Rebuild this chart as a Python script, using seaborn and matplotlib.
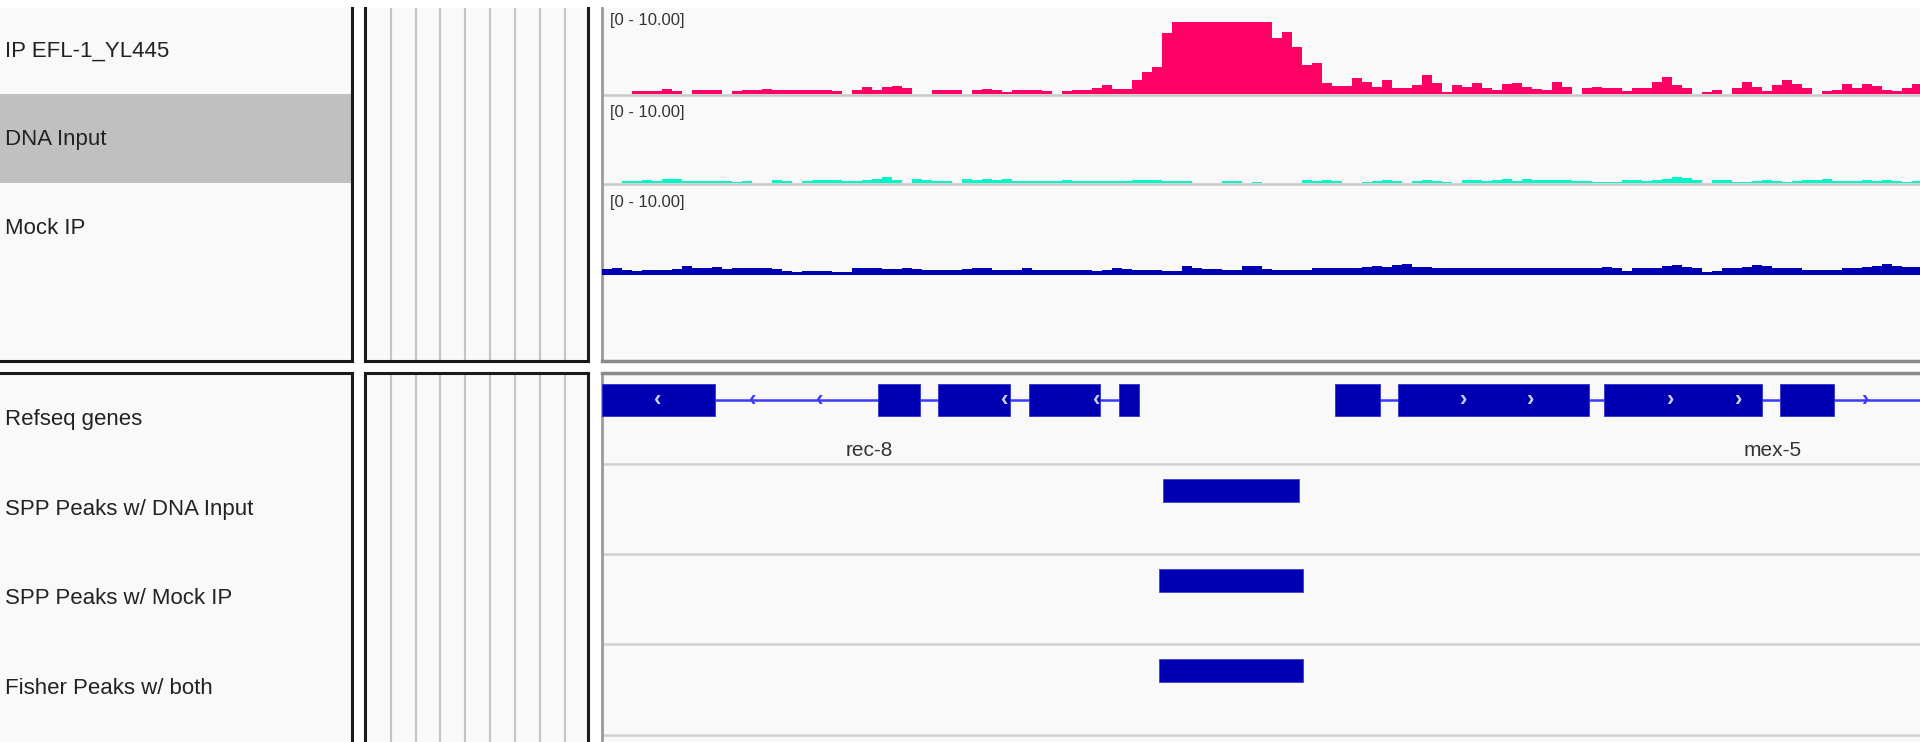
import numpy as np
import pandas as pd
import matplotlib
matplotlib.use("Agg")
import matplotlib.pyplot as plt
import seaborn as sns

W, H = 1920, 742
BIN = 100          # bp per coverage bin
VIEW_END = 13180   # visible window, bp

# coverage tracks (one value per 100 bp bin)
IP_VALUES = [
    0, 0, 0, 0.4, 0.45, 0.45, 0.75, 0.45, 0, 0.6,
    0.5, 0.6, 0, 0.4, 0.5, 0.6, 0.7, 0.6, 0.5, 0.6,
    0.6, 0.5, 0.6, 0.4, 0, 0.6, 1.0, 0.6, 1.0, 1.1,
    0.9, 0, 0, 0.6, 0.6, 0.6, 0, 0.5, 0.7, 0.5,
    0.3, 0.5, 0.6, 0.6, 0.4, 0, 0.4, 0.5, 0.5, 0.9,
    1.2, 0.7, 0.7, 2.0, 3.0, 3.8, 8.5, 10, 10, 10,
    10, 10, 10, 10, 10, 10, 10, 7.8, 8.6, 6.5,
    4.0, 4.3, 1.5, 1.1, 1.1, 2.2, 1.6, 1.0, 1.9, 0.8,
    0.9, 1.2, 2.6, 1.5, 0.3, 1.2, 1.0, 1.5, 0.8, 0.5,
    1.4, 1.5, 1.0, 0.7, 0.5, 1.7, 1.0, 0, 0.9, 1.0,
    0.8, 0.8, 0.4, 0.8, 0.9, 1.6, 2.4, 1.2, 0.8, 0,
    0.3, 0.5, 0, 0.9, 1.6, 1.0, 0.4, 1.2, 2.0, 1.4,
    0.8, 0, 0.4, 0.5, 1.4, 0.8, 1.4, 1.1, 0.6, 0.4,
    0.8, 1.4,
]
DNA_VALUES = [
    0, 0, 0.25, 0.3, 0.4, 0.3, 0.6, 0.55, 0.25, 0.25,
    0.25, 0.25, 0.25, 0.2, 0.25, 0, 0, 0.35, 0.25, 0,
    0.25, 0.35, 0.35, 0.35, 0.3, 0.3, 0.4, 0.5, 0.8, 0.4,
    0, 0.6, 0.45, 0.25, 0.25, 0, 0.5, 0.35, 0.5, 0.45,
    0.6, 0.3, 0.25, 0.25, 0.3, 0.25, 0.4, 0.3, 0.25, 0.3,
    0.25, 0.25, 0.3, 0.4, 0.45, 0.45, 0.3, 0.25, 0.25, 0,
    0, 0, 0.25, 0.25, 0, 0.2, 0, 0, 0, 0,
    0.4, 0.3, 0.4, 0.3, 0, 0, 0.2, 0.25, 0.4, 0.3,
    0, 0.3, 0.45, 0.25, 0.2, 0, 0.4, 0.4, 0.3, 0.45,
    0.5, 0.3, 0.6, 0.45, 0.4, 0.4, 0.45, 0.3, 0.3, 0.2,
    0.2, 0.2, 0.35, 0.35, 0.3, 0.45, 0.6, 0.9, 0.75, 0.4,
    0, 0.35, 0.35, 0.2, 0.2, 0.3, 0.35, 0.25, 0.2, 0.3,
    0.35, 0.35, 0.5, 0.3, 0.3, 0.25, 0.35, 0.25, 0.35, 0.25,
    0.2, 0.25,
]
MOCK_VALUES = [
    0.9, 1.0, 0.75, 0.5, 0.75, 0.75, 0.75, 0.8, 1.2, 1.0,
    0.95, 1.05, 0.85, 0.95, 0.95, 0.95, 0.95, 0.8, 0.5, 0.4,
    0.55, 0.6, 0.5, 0.45, 0.45, 0.95, 0.95, 0.95, 0.85, 0.85,
    0.95, 0.9, 0.75, 0.75, 0.75, 0.75, 0.85, 1.0, 1.0, 0.75,
    0.75, 0.75, 1.0, 0.75, 0.75, 0.65, 0.65, 0.65, 0.65, 0.5,
    0.7, 0.95, 0.8, 0.65, 0.65, 0.65, 0.6, 0.6, 1.2, 1.0,
    0.9, 0.85, 0.65, 0.65, 1.2, 1.2, 0.8, 0.75, 0.75, 0.75,
    0.75, 0.95, 0.95, 0.95, 0.95, 0.95, 1.05, 1.2, 1.1, 1.35,
    1.5, 1.1, 1.05, 0.95, 0.93, 0.93, 0.93, 0.93, 0.93, 0.93,
    0.93, 0.95, 0.93, 0.93, 0.93, 0.93, 0.93, 0.93, 0.93, 0.93,
    1.1, 1.0, 0.5, 0.93, 0.95, 1.0, 1.3, 1.4, 1.05, 0.95,
    0.45, 0.6, 0.93, 0.93, 1.1, 1.4, 1.3, 0.95, 0.93, 0.93,
    0.65, 0.65, 0.75, 0.75, 0.95, 1.0, 1.05, 1.2, 1.5, 1.3,
    1.1, 1.1,
]

UPPER_NAMES = ["IP EFL-1_YL445", "DNA Input", "Mock IP"]
LOWER_NAMES = ["Refseq genes", "SPP Peaks w/ DNA Input", "SPP Peaks w/ Mock IP", "Fisher Peaks w/ both"]
DATA_RANGE = "[0 - 10.00]"

# gene models (bp in window)
REC8_EXONS = [(0, 1130), (2760, 3180), (3360, 4080), (4270, 4980), (5170, 5370)]
REC8_SPAN = (0, 5370)
REC8_CHEVRONS = [560, 1510, 2180, 4030, 4950]
MEX5_EXONS = [(7330, 7780), (7960, 9870), (10020, 11600), (11780, 12320)]
MEX5_SPAN = (7330, VIEW_END)
MEX5_CHEVRONS = [8620, 9290, 10690, 11370, 12640]
GENE_LABELS = [("rec-8", 2670), ("mex-5", 11710)]

# called peaks
SPP_DNA_PEAKS = [(5610, 6970)]
SPP_MOCK_PEAKS = [(5570, 7010)]
FISHER_PEAKS = [(5570, 7010)]

PINK = "#ff0064"
TEAL = "#00f8c4"
BLUE = "#0000b2"
INTRON = "#3a3aff"
PANEL_BG = "#f9f9f9"

sns.set_theme(style="white")
plt.rcParams["font.family"] = ["Liberation Sans", "DejaVu Sans"]


def px_axes(fig, x0, y0, x1, y1):
    return fig.add_axes([x0 / W, 1 - y1 / H, (x1 - x0) / W, (y1 - y0) / H])


def panel(fig, box, spines, face=PANEL_BG):
    ax = px_axes(fig, *box)
    ax.set_facecolor(face)
    ax.set_xlim(box[0], box[2])
    ax.set_ylim(box[3], box[1])
    ax.set_xticks([])
    ax.set_yticks([])
    for side, sp in ax.spines.items():
        if side in spines:
            sp.set_color(spines[side][0])
            sp.set_linewidth(spines[side][1])
        else:
            sp.set_visible(False)
    return ax


def draw_signal(ax, values, color, top):
    pos = np.arange(len(values)) * BIN + BIN / 2
    df = pd.DataFrame({"pos": pos, "cov": values})
    sns.histplot(data=df, x="pos", weights="cov", binwidth=BIN,
                 binrange=(0, len(values) * BIN), element="step",
                 fill=True, color=color, alpha=1, linewidth=0, ax=ax)
    ax.set_xlim(0, VIEW_END)
    ax.set_ylim(0, top)
    ax.set_axis_off()


def draw_gene(ax, exons, span, chevrons, strand):
    yc = 27
    ax.hlines(yc, span[0], span[1], color=INTRON, lw=1.8, zorder=1)
    starts = [s for s, e in exons]
    widths = [e - s for s, e in exons]
    ax.barh(yc, widths, left=starts, height=32, color=BLUE, edgecolor="#3030d0", lw=0.6, zorder=2)
    glyph = "\u2039" if strand == "-" else "\u203a"
    for c in chevrons:
        on_exon = any(s <= c <= e for s, e in exons)
        ax.text(c, yc, glyph, color="#d0d0ff" if on_exon else INTRON, fontsize=16,
                fontweight="bold", ha="center", va="center", zorder=3)


def draw_peaks(ax, peaks):
    starts = [s for s, e in peaks]
    widths = [e - s for s, e in peaks]
    ax.barh(26.5, widths, left=starts, height=23, color=BLUE, edgecolor="#4040d0", lw=0.6)


fig = plt.figure(figsize=(W / 100, H / 100), dpi=100, facecolor="white")

BLACK = ("#1a1a1a", 2.2)
GREY = ("#8a8a8a", 2.5)
# name panels
name_up = panel(fig, (0, 8, 352, 361), {"right": BLACK, "bottom": BLACK})
name_lo = panel(fig, (0, 373, 352, 742), {"right": BLACK, "top": BLACK})
name_up.axhspan(94, 183, xmin=0, xmax=1, color="#c0c0c0", lw=0)
# attribute panels
attr_up = panel(fig, (365, 8, 588, 361), {"left": BLACK, "right": BLACK, "bottom": BLACK})
attr_lo = panel(fig, (365, 373, 588, 742), {"left": BLACK, "right": BLACK, "top": BLACK})
for ax in (attr_up, attr_lo):
    for xc in [391, 416, 440, 465, 490, 515, 540, 565]:
        ax.axvline(xc, color="#c4c4c4", lw=1.6)
# data panels
data_up = panel(fig, (602, 8, 1920, 361), {"left": ("#9a9a9a", 2), "bottom": GREY})
data_lo = panel(fig, (602, 373, 1920, 742), {"left": ("#9a9a9a", 2), "top": GREY})
data_up.hlines([95, 184], 602, 1920, color="#c8c8c8", lw=1.8)
data_lo.hlines([464, 554, 644, 735], 602, 1920, color="#d0d0d0", lw=1.8)

# coverage tracks
tracks = [(IP_VALUES, PINK, 8, 94), (DNA_VALUES, TEAL, 94, 183), (MOCK_VALUES, BLUE, 183, 275)]
for values, color, y0, y1 in tracks:
    ax = px_axes(fig, 602, y0, 1920, y1)
    ax.patch.set_visible(False)
    draw_signal(ax, values, color, (y1 - y0) / 7.2)
for yc in [21, 112, 202]:
    fig.text(610 / W, 1 - yc / H, DATA_RANGE, fontsize=12, color="#333333", va="center", ha="left")

# gene track
gene_ax = px_axes(fig, 602, 373, 1920, 464)
gene_ax.patch.set_visible(False)
gene_ax.set_xlim(0, VIEW_END)
gene_ax.set_ylim(91, 0)
gene_ax.set_axis_off()
draw_gene(gene_ax, REC8_EXONS, REC8_SPAN, REC8_CHEVRONS, "-")
draw_gene(gene_ax, MEX5_EXONS, MEX5_SPAN, MEX5_CHEVRONS, "+")
for name, xpos in GENE_LABELS:
    gene_ax.text(xpos, 77, name, fontsize=15, color="#333333", ha="center", va="center")

# peak tracks
for (y0, y1), peaks in zip([(464, 554), (554, 644), (644, 735)], [SPP_DNA_PEAKS, SPP_MOCK_PEAKS, FISHER_PEAKS]):
    ax = px_axes(fig, 602, y0, 1920, y1)
    ax.patch.set_visible(False)
    ax.set_xlim(0, VIEW_END)
    ax.set_ylim(y1 - y0, 0)
    ax.set_axis_off()
    draw_peaks(ax, peaks)

# track names
for name, yc in zip(UPPER_NAMES + LOWER_NAMES, [51, 139, 229, 419, 509, 599, 689]):
    fig.text(5 / W, 1 - yc / H, name, fontsize=16, color="#222222", va="center", ha="left")

fig.savefig("out.png", dpi=100, facecolor="white")
